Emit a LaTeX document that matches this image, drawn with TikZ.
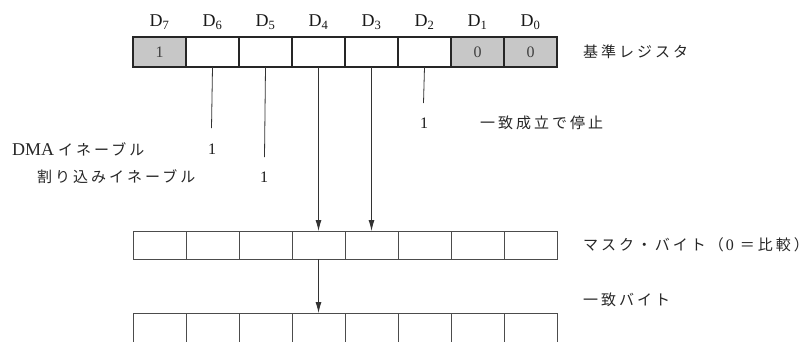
\documentclass[tikz,border=0pt]{standalone}
\usepackage{fontspec}
\setmainfont{Liberation Serif}
\newfontfamily\jp[LetterSpace=20]{Noto Sans CJK JP}
\usetikzlibrary{arrows.meta}
\begin{document}
\begin{tikzpicture}[x=1pt,y=1pt,
  topcell/.style={draw=black!85, line width=1.3pt, minimum width=53pt, minimum height=30pt, inner sep=0pt, outer sep=0pt, font=\fontsize{16}{16}\selectfont, text=black!75},
  lowcell/.style={draw=black!70, line width=0.8pt, minimum width=53pt, minimum height=28pt, inner sep=0pt, outer sep=0pt},
  shaded/.style={fill=black!22},
  bitlbl/.style={font=\fontsize{18}{18}\selectfont, inner sep=0pt, text=black!90},
  jlbl/.style={font=\jp\fontsize{15}{15}\selectfont, anchor=west, inner sep=0pt, text=black!85},
  one/.style={font=\fontsize{16}{16}\selectfont, inner sep=0pt, text=black!90},
  conn/.style={draw=black!80, line width=0.8pt},
  arr/.style={conn, -{Latex[length=11pt,width=6pt]}}
]
\useasboundingbox[fill=white] (0,0) rectangle (810,-341);
\begin{scope}
\clip (0,0) rectangle (810,-341);
% reference register
\foreach \i/\b in {0/7,1/6,2/5,3/4,4/3,5/2,6/1,7/0}{
  \node[topcell] (r\i) at ({159.5+53*\i},-52) {};
  \node[bitlbl] (d\i) at ({159.5+53*\i},-22) {D\textsubscript{\b}};
  \node[lowcell] (m\i) at ({159.5+53*\i},-245) {};
  \node[lowcell, minimum height=30pt] (b\i) at ({159.5+53*\i},-328) {};
}
\node[topcell, shaded] (r0) at (159.5,-52) {1};
\node[topcell, shaded] (r6) at (477.5,-52) {0};
\node[topcell, shaded] (r7) at (530.5,-52) {0};
\end{scope}

% free ends
\coordinate (e6) at (211.5,-128);
\coordinate (e5) at (264.5,-157);
\coordinate (e2) at (423.5,-103);

\draw[conn] (r1.south) -- (e6);
\draw[conn] (r2.south) -- (e5);
\draw[conn] (r5.south) -- (e2);
\draw[arr] (r3.south) -- (m3.north);
\draw[arr] (r4.south) -- (m4.north);
\draw[arr] (m3.south) -- (b3.north);

% ones
\node[one] (o6) at (212,-149) {1};
\node[one] (o5) at (264,-177) {1};
\node[one] (o2) at (424,-123) {1};

% labels
\node[jlbl] (ldma) at (12,-149) {{\rmfamily\fontsize{18}{18}\selectfont DMA}\hspace{4pt}イネーブル};
\node[jlbl] (lint) at (37,-177) {割り込みイネーブル};
\node[jlbl] (lstop) at (480,-123) {一致成立で停止};
\node[jlbl] (lref) at (583,-52) {基準レジスタ};
\node[jlbl] (lmask) at (583,-245) {マスク・バイト（\hspace{2pt}{\rmfamily\fontsize{16}{16}\selectfont 0}\hspace{6pt}＝比較）};
\node[jlbl] (lmatch) at (583,-300) {一致バイト};
\end{tikzpicture}
\end{document}
